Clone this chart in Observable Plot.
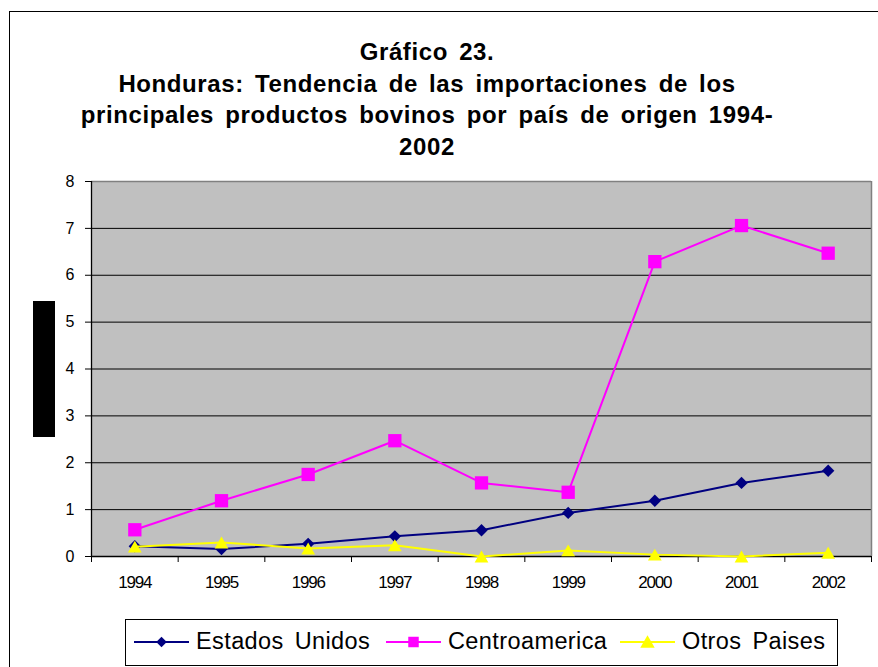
<!DOCTYPE html>
<html><head><meta charset="utf-8">
<script src="https://cdn.jsdelivr.net/npm/d3@7"></script>
<script src="https://cdn.jsdelivr.net/npm/@observablehq/plot@0.6"></script>
<style>
body{margin:0;background:#fff;font-family:"Liberation Sans",Arial,sans-serif;}
#wrap{position:relative;width:878px;height:667px;overflow:hidden;background:#fff;}
#border{position:absolute;left:9px;top:11px;width:880px;height:700px;border-left:1px solid #000;border-top:1px solid #000;}
#title{position:absolute;left:0;width:854px;top:36px;text-align:center;font-weight:bold;font-size:24px;line-height:31.7px;color:#000;word-spacing:4px;letter-spacing:0.6px;}
#redact{position:absolute;left:33px;top:301px;width:22px;height:136px;background:#000;}
#chart{position:absolute;left:0;top:0;}
#legend{position:absolute;left:125px;top:619px;width:711px;height:45px;border:1px solid #000;background:#fff;}
.item{position:absolute;top:0;height:43px;display:flex;align-items:center;font-size:23.5px;color:#000;white-space:nowrap;letter-spacing:0.4px;word-spacing:4px;}
.item span{margin-left:7px;}
svg g[aria-label="x-axis tick label"] text{letter-spacing:-1.2px;}
</style></head><body>
<div id="wrap">
  <div id="border"></div>
  <div id="chart"></div>
  <div id="title">Gráfico 23.<br>Honduras: Tendencia de las importaciones de los<br>principales productos bovinos por país de origen 1994-<br>2002</div>
  <div id="redact"></div>
  <div id="legend"></div>
</div>
<script>
// ---- data ----
const years = [1994, 1995, 1996, 1997, 1998, 1999, 2000, 2001, 2002];
const estadosUnidos = [0.22, 0.16, 0.27, 0.43, 0.56, 0.93, 1.19, 1.57, 1.83];
const centroamerica = [0.57, 1.19, 1.75, 2.47, 1.57, 1.37, 6.29, 7.06, 6.47];
const otrosPaises   = [0.21, 0.30, 0.17, 0.24, 0.00, 0.13, 0.04, 0.00, 0.08];
const yTicks = [0, 1, 2, 3, 4, 5, 6, 7, 8];
const seriesNames = ["Estados Unidos", "Centroamerica", "Otros Paises"];
const seriesColors = ["#000080", "#FF00FF", "#FFFF00"];

// ---- build ----
const seriesValues = [estadosUnidos, centroamerica, otrosPaises];
const seriesSymbols = [d3.symbolDiamond2, d3.symbolSquare, d3.symbolTriangle];
const seriesR = [5.6, 7.5, 5.1];
const seriesDy = [0, 0, 2];
const rows = vals => years.map((yr, i) => ({year: yr, value: vals[i]}));
const x0 = years[0] - 0.5, x1 = years[years.length - 1] + 0.5;
const bounds = years.map(y => y - 0.5).concat([x1]);
const yMin = yTicks[0], yMax = yTicks[yTicks.length - 1];

const seriesMarks = [];
seriesValues.forEach((vals, i) => {
  const d = rows(vals);
  seriesMarks.push(Plot.line(d, {x: "year", y: "value", stroke: seriesColors[i], strokeWidth: 2}));
  seriesMarks.push(Plot.dot(d, {x: "year", y: "value", symbol: seriesSymbols[i], r: seriesR[i], fill: seriesColors[i], stroke: "none", dy: seriesDy[i]}));
});

const chart = Plot.plot({
  width: 878, height: 667,
  marginLeft: 91, marginRight: 7, marginTop: 181, marginBottom: 111,
  x: {domain: [x0, x1], label: null},
  y: {domain: [yMin, yMax], label: null},
  style: {fontFamily: "'Liberation Sans', Arial, sans-serif", background: "transparent", color: "#000", overflow: "visible"},
  marks: [
    Plot.frame({fill: "#C0C0C0", stroke: "none"}),
    Plot.ruleY(yTicks.slice(1, -1), {stroke: "#000", strokeWidth: 1}),
    Plot.ruleY([yMax], {stroke: "#808080", strokeWidth: 1.5}),
    Plot.ruleX([x1], {stroke: "#808080", strokeWidth: 1.5}),
    Plot.ruleX([x0], {stroke: "#000", strokeWidth: 1.3}),
    Plot.ruleY([yMin], {stroke: "#000", strokeWidth: 1.5}),
    Plot.axisY({ticks: yTicks, tickSize: 6, tickPadding: 11, fontSize: 16, tickFormat: d => String(d), label: null}),
    Plot.axisX({ticks: bounds, tickSize: 6, tickFormat: () => "", label: null}),
    Plot.axisX({ticks: years, tickSize: 0, tickPadding: 19, fontSize: 17, tickFormat: d => String(d), label: null}),
    ...seriesMarks
  ]
});
document.getElementById("chart").appendChild(chart);

// ---- legend ----
const legendX = [8, 260, 494];
const symSizes = [70, 110, 90];
const legend = d3.select("#legend");
seriesNames.forEach((name, i) => {
  const item = legend.append("div").attr("class", "item").style("left", legendX[i] + "px");
  const svg = item.append("svg").attr("width", 55).attr("height", 20);
  svg.append("line").attr("x1", 0).attr("x2", 55).attr("y1", 10).attr("y2", 10)
    .attr("stroke", seriesColors[i]).attr("stroke-width", 2);
  svg.append("path").attr("d", d3.symbol(seriesSymbols[i], symSizes[i])())
    .attr("transform", `translate(27.5,${i === 2 ? 11.5 : 10})`).attr("fill", seriesColors[i]);
  item.append("span").text(name);
});
</script>
</body></html>
